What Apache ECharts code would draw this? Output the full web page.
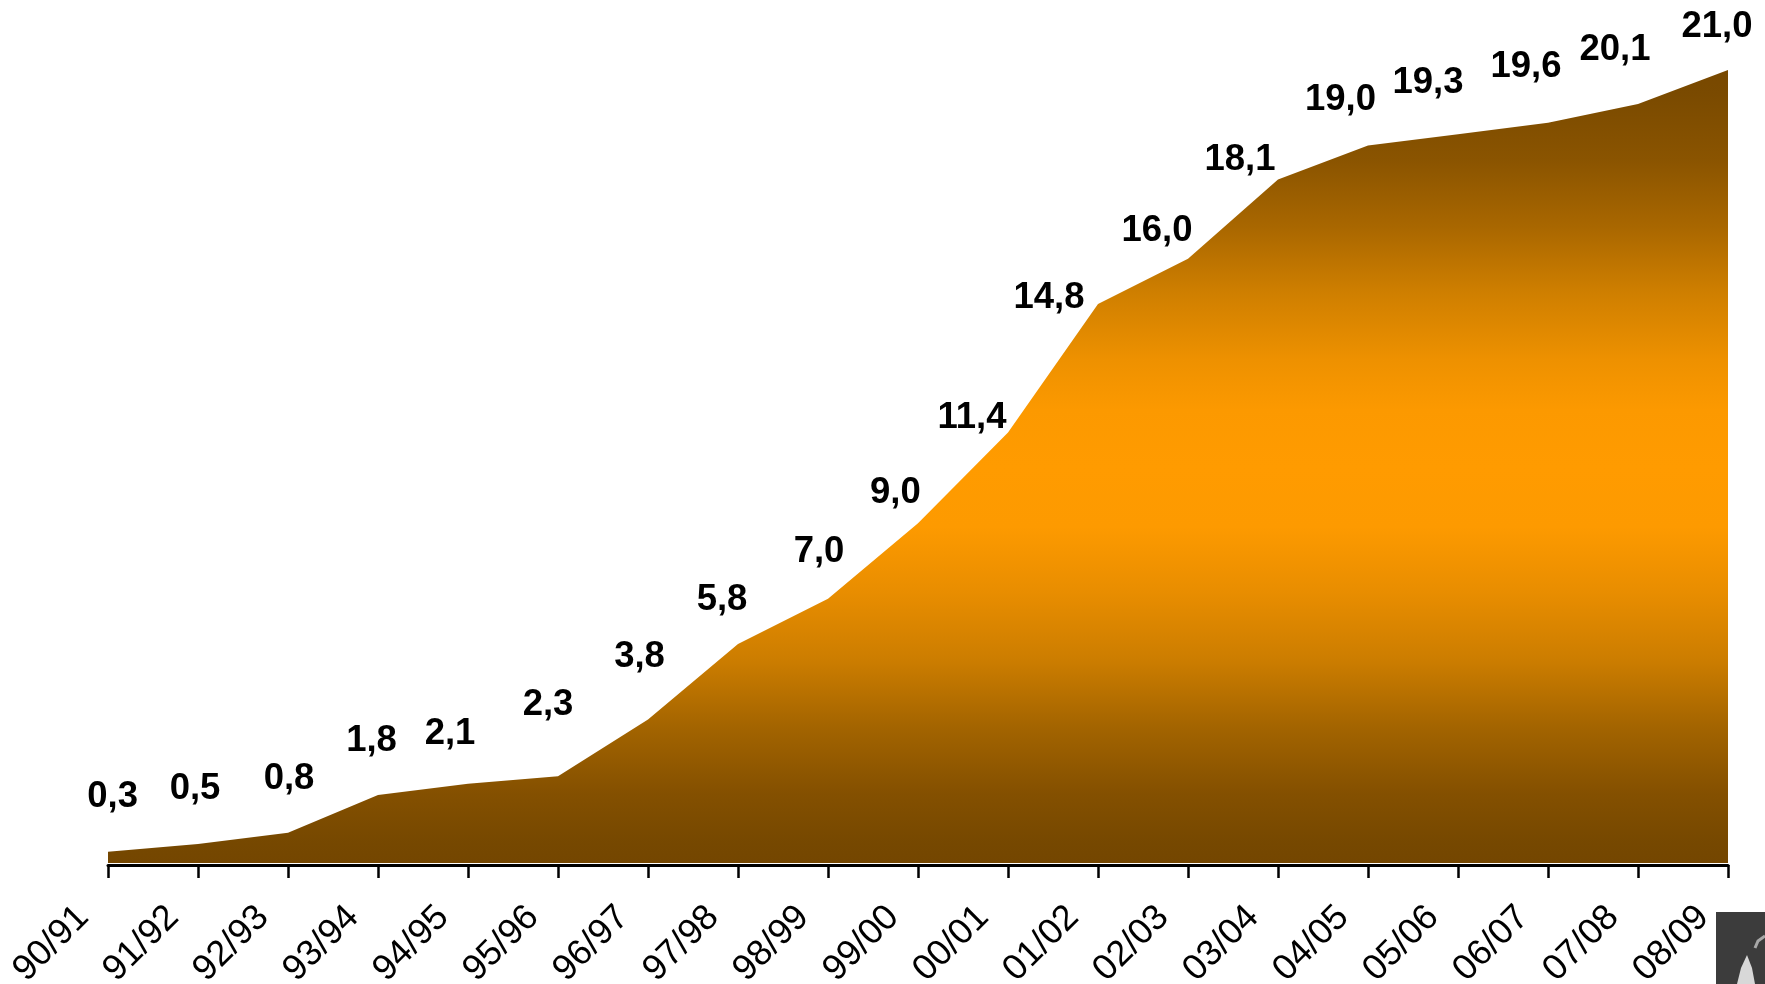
<!DOCTYPE html>
<html><head><meta charset="utf-8">
<style>html,body{margin:0;padding:0;background:#fff}#c{width:1765px;height:984px}</style>
<script src="https://cdn.jsdelivr.net/npm/echarts@6/dist/echarts.min.js"></script>
</head><body><div id="c"></div>
<script>
const categories = ['90/91','91/92','92/93','93/94','94/95','95/96','96/97','97/98','98/99','99/00','00/01','01/02','02/03','03/04','04/05','05/06','06/07','07/08','08/09'];
const values = [0.3,0.5,0.8,1.8,2.1,2.3,3.8,5.8,7.0,9.0,11.4,14.8,16.0,18.1,19.0,19.3,19.6,20.1,21.0];
const labelDx = [4.6,-3,1,-6.5,-18,-10,-8.5,-16,-9,-22.6,-36,-49,-31,-38,-27.5,-30,-22,-23,-11];
const labelDy = [-57,-58,-56,-56.5,-52,-74,-65.5,-47,-49,-33,-17,-9,-30.5,-22,-47.6,-54,-58,-57,-46];
const FONT = '"Liberation Sans", Arial, sans-serif';
const chart = echarts.init(document.getElementById('c'), null, {renderer:'canvas'});
chart.setOption({
  animation:false,
  backgroundColor:'#fff',
  grid:{left:108,top:70,width:1620,height:793,containLabel:false,outerBoundsMode:'none'},
  xAxis:{
    type:'category',data:categories,boundaryGap:false,offset:2,
    axisLine:{show:true,onZero:false,lineStyle:{color:'#000',width:3}},
    axisTick:{show:true,length:13,lineStyle:{color:'#000',width:2.5},alignWithLabel:true},
    axisLabel:{show:true,interval:0,rotate:45,margin:22,padding:[0,35,0,0],color:'#000',fontSize:36,fontFamily:FONT,hideOverlap:false,showMinLabel:true,showMaxLabel:true},
    splitLine:{show:false}
  },
  yAxis:{type:'value',min:0,max:21,show:false,splitLine:{show:false}},
  series:[{
    type:'line',
    data:values.map((v,i)=>({
      value:v,
      label:{offset:[labelDx[i],labelDy[i]+21]}
    })),
    showSymbol:true,symbol:'circle',symbolSize:0,showAllSymbol:true,smooth:false,clip:false,
    lineStyle:{width:0},
    areaStyle:{opacity:1,color:{type:'linear',x:0,y:0,x2:0,y2:1,colorStops:[
      {offset:0,color:'#784800'},{offset:0.03,color:'#7a4a00'},{offset:0.113,color:'#8a5400'},{offset:0.198,color:'#a96700'},
      {offset:0.281,color:'#cf7f00'},{offset:0.366,color:'#ee9100'},{offset:0.429,color:'#fc9900'},{offset:0.5,color:'#ff9b00'},
      {offset:0.576,color:'#fd9a00'},{offset:0.66,color:'#e88d00'},{offset:0.744,color:'#cc7d00'},{offset:0.829,color:'#a36400'},
      {offset:0.912,color:'#845000'},{offset:0.975,color:'#764800'},{offset:1,color:'#744600'}]}},
    label:{show:true,position:'top',distance:0,fontFamily:FONT,fontSize:36.5,fontWeight:'bold',color:'#000',
      formatter:p=>p.value.toFixed(1).replace('.',',')}
  }],
  graphic:[
    {type:'rect',shape:{x:1716,y:912,width:49,height:72},style:{fill:'#3c3c3c'},z:10},
    {type:'polygon',shape:{points:[[1737,984],[1741,968],[1747,955],[1752,968],[1755,984]]},style:{fill:'#d8d8d8'},z:11},
    {type:'polyline',shape:{points:[[1755,948],[1758,941],[1765,936]]},style:{stroke:'#a8a8a8',lineWidth:3,fill:'none'},z:11}
  ]
});
</script></body></html>
